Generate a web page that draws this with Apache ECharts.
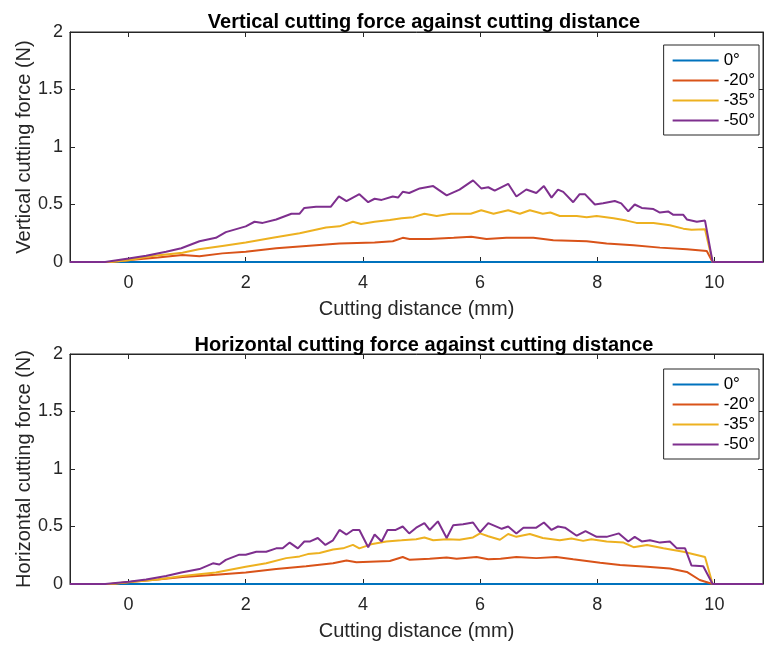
<!DOCTYPE html>
<html>
<head>
<meta charset="utf-8">
<script src="https://cdn.jsdelivr.net/npm/echarts@6/dist/echarts.min.js"></script>
<style>
  html, body { margin: 0; padding: 0; background: #fff; }
  #chart { width: 766px; height: 646px; }
</style>
</head>
<body>
<div id="chart"></div>
<script>
// legend names
const angles = ['0°', '-20°', '-35°', '-50°'];
const colors = ['#0072BD', '#D95319', '#EDB120', '#7E2F8E'];
const xTicks = [0, 2, 4, 6, 8, 10];

// vertical force, [distance mm, force N]
const topBlue = [[-1, 0], [10.83, 0]];
const topRed = [[-1,0],[-0.3,0],[0.07,0.02],[0.5,0.04],[0.92,0.06],[1.21,0.05],[1.6,0.075],[2.0,0.09],[2.52,0.12],[3.03,0.14],[3.6,0.16],[4.2,0.17],[4.51,0.18],[4.68,0.21],[4.8,0.2],[5.14,0.2],[5.55,0.21],[5.85,0.22],[6.11,0.2],[6.45,0.21],[6.91,0.21],[7.25,0.19],[7.82,0.18],[8.16,0.16],[8.62,0.145],[9.07,0.125],[9.53,0.11],[9.87,0.095],[9.97,0],[10.83,0]];
const topYellow = [[-1,0],[-0.3,0],[0,0.015],[0.36,0.05],[0.92,0.08],[1.2,0.11],[1.6,0.14],[2.0,0.17],[2.46,0.21],[2.92,0.25],[3.37,0.3],[3.6,0.31],[3.83,0.35],[3.97,0.33],[4.2,0.35],[4.46,0.365],[4.66,0.38],[4.86,0.39],[5.05,0.42],[5.26,0.4],[5.5,0.42],[5.84,0.42],[6.02,0.45],[6.23,0.42],[6.48,0.45],[6.68,0.42],[6.85,0.45],[7.07,0.42],[7.2,0.43],[7.36,0.4],[7.65,0.4],[7.82,0.39],[7.99,0.4],[8.28,0.38],[8.5,0.36],[8.67,0.34],[8.96,0.34],[9.24,0.32],[9.47,0.29],[9.61,0.28],[9.84,0.285],[9.97,0],[10.83,0]];
const topPurple = [[-1,0],[-0.4,0],[0,0.03],[0.3,0.055],[0.64,0.09],[0.9,0.12],[1.21,0.18],[1.49,0.21],[1.66,0.26],[2.0,0.31],[2.15,0.35],[2.29,0.34],[2.52,0.37],[2.78,0.42],[2.92,0.42],[3.0,0.47],[3.2,0.48],[3.45,0.48],[3.59,0.57],[3.72,0.53],[3.94,0.59],[4.09,0.52],[4.2,0.55],[4.32,0.54],[4.51,0.57],[4.6,0.56],[4.68,0.61],[4.79,0.6],[4.97,0.64],[5.2,0.66],[5.43,0.58],[5.65,0.63],[5.88,0.71],[6.02,0.64],[6.14,0.65],[6.25,0.62],[6.48,0.68],[6.62,0.57],[6.79,0.63],[6.96,0.6],[7.09,0.66],[7.22,0.56],[7.33,0.63],[7.42,0.61],[7.59,0.52],[7.7,0.59],[7.79,0.59],[7.96,0.5],[8.1,0.51],[8.3,0.53],[8.41,0.51],[8.53,0.44],[8.64,0.5],[8.76,0.47],[8.96,0.46],[9.07,0.43],[9.21,0.44],[9.3,0.41],[9.47,0.41],[9.53,0.37],[9.7,0.35],[9.84,0.36],[9.97,0],[10.83,0]];

// horizontal force
const botBlue = [[-1, 0], [10.83, 0]];
const botRed = [[-1,0],[-0.3,0],[0.07,0.02],[0.5,0.04],[0.92,0.06],[1.49,0.08],[2.0,0.1],[2.52,0.13],[3.03,0.155],[3.49,0.18],[3.72,0.205],[3.89,0.19],[4.46,0.2],[4.68,0.235],[4.8,0.21],[5.14,0.22],[5.43,0.23],[5.6,0.22],[5.94,0.235],[6.14,0.215],[6.35,0.22],[6.62,0.235],[6.96,0.225],[7.3,0.235],[7.59,0.215],[8.05,0.185],[8.39,0.165],[8.85,0.15],[9.24,0.135],[9.53,0.105],[9.75,0.035],[9.97,0],[10.83,0]];
const botYellow = [[-1,0],[-0.3,0],[0.07,0.02],[0.5,0.04],[0.92,0.07],[1.49,0.1],[2.0,0.15],[2.35,0.18],[2.69,0.225],[2.92,0.24],[3.06,0.26],[3.26,0.27],[3.49,0.3],[3.66,0.31],[3.83,0.34],[3.94,0.31],[4.14,0.345],[4.4,0.37],[4.66,0.38],[4.91,0.39],[5.05,0.405],[5.2,0.38],[5.43,0.39],[5.65,0.385],[5.88,0.405],[6.0,0.44],[6.14,0.415],[6.34,0.385],[6.48,0.435],[6.62,0.41],[6.85,0.435],[7.07,0.4],[7.36,0.38],[7.56,0.395],[7.76,0.375],[7.9,0.39],[8.16,0.37],[8.45,0.36],[8.62,0.32],[8.85,0.34],[9.13,0.31],[9.47,0.28],[9.84,0.235],[9.97,0],[10.83,0]];
const botPurple = [[-1,0],[-0.4,0],[0,0.02],[0.3,0.04],[0.64,0.07],[0.9,0.1],[1.21,0.13],[1.44,0.18],[1.55,0.17],[1.66,0.21],[1.89,0.255],[2.0,0.255],[2.18,0.28],[2.35,0.28],[2.52,0.31],[2.63,0.31],[2.75,0.36],[2.89,0.31],[3.0,0.37],[3.1,0.37],[3.23,0.4],[3.36,0.34],[3.49,0.38],[3.6,0.47],[3.72,0.43],[3.83,0.47],[3.94,0.47],[4.09,0.32],[4.2,0.43],[4.32,0.37],[4.42,0.47],[4.56,0.47],[4.68,0.5],[4.79,0.44],[4.91,0.49],[5.05,0.53],[5.14,0.47],[5.28,0.545],[5.43,0.4],[5.54,0.51],[5.71,0.52],[5.88,0.535],[6.0,0.45],[6.14,0.53],[6.37,0.48],[6.48,0.5],[6.62,0.44],[6.74,0.49],[6.96,0.49],[7.09,0.535],[7.22,0.47],[7.33,0.5],[7.45,0.49],[7.65,0.42],[7.8,0.46],[7.99,0.41],[8.16,0.41],[8.37,0.44],[8.53,0.37],[8.64,0.41],[8.76,0.37],[8.9,0.38],[9.07,0.36],[9.24,0.37],[9.36,0.31],[9.5,0.31],[9.61,0.16],[9.81,0.155],[9.97,0],[10.83,0]];

const FONT = 'Liberation Sans, Arial, Helvetica, sans-serif';
const AX = '#262626';

const chart = echarts.init(document.getElementById('chart'));

function xAxisFor(gi, pos, main) {
  return {
    type: 'value', gridIndex: gi, position: pos, min: -1, max: 10.83,
    name: main ? 'Cutting distance (mm)' : '',
    nameLocation: 'middle', nameGap: 37,
    nameTextStyle: { fontFamily: FONT, fontSize: 20, color: AX },
    axisLine: { show: true, onZero: false, lineStyle: { color: AX, width: 1 } },
    axisTick: { show: true, inside: true, length: 5, customValues: xTicks, lineStyle: { color: AX } },
    axisLabel: { show: main, customValues: xTicks, margin: 12, fontFamily: FONT, fontSize: 18, color: AX },
    splitLine: { show: false }
  };
}
function yAxisFor(gi, pos, name) {
  return {
    type: 'value', gridIndex: gi, position: pos, min: 0, max: 2, interval: 0.5,
    name: name, nameLocation: 'middle', nameGap: 36, nameMoveOverlap: false,
    nameTextStyle: { fontFamily: FONT, fontSize: 20, color: AX },
    axisLine: { show: true, onZero: false, lineStyle: { color: AX, width: 1 } },
    axisTick: { show: true, inside: true, length: 5, lineStyle: { color: AX } },
    axisLabel: { show: !!name, margin: 7, fontFamily: FONT, fontSize: 18, color: AX },
    splitLine: { show: false }
  };
}
function lineSeries(name, data, color, xi, yi) {
  return {
    type: 'line', name: name, data: data, xAxisIndex: xi, yAxisIndex: yi,
    symbol: 'none', lineStyle: { color: color, width: 2 }, itemStyle: { color: color }
  };
}
function legendFor(top) {
  return {
    orient: 'vertical', right: 7, top: top, data: angles,
    itemWidth: 46, itemHeight: 14, itemGap: 3, itemTextGap: 4,
    itemStyle: { opacity: 0 },
    padding: [7, 4, 6, 8], borderColor: AX, borderWidth: 1, backgroundColor: '#fff',
    textStyle: { fontFamily: FONT, fontSize: 17, color: '#000' }
  };
}

const topData = [topBlue, topRed, topYellow, topPurple];
const botData = [botBlue, botRed, botYellow, botPurple];

const series = [];
angles.forEach(function (a, i) { series.push(lineSeries(a, topData[i], colors[i], 0, 0)); });
angles.forEach(function (a, i) { series.push(lineSeries(a, botData[i], colors[i], 2, 2)); });

chart.setOption({
  animation: false,
  backgroundColor: '#fff',
  title: [
    { text: 'Vertical cutting force against cutting distance', left: 419, top: 7, textAlign: 'center',
      textStyle: { fontFamily: FONT, fontSize: 20, fontWeight: 'bold', color: '#000' } },
    { text: 'Horizontal cutting force against cutting distance', left: 419, top: 330, textAlign: 'center',
      textStyle: { fontFamily: FONT, fontSize: 20, fontWeight: 'bold', color: '#000' } }
  ],
  legend: [legendFor(45), legendFor(369)],
  grid: [
    { left: 70, right: 3, top: 32, height: 230, show: true, borderColor: AX, borderWidth: 1 },
    { left: 70, right: 3, top: 354, height: 230, show: true, borderColor: AX, borderWidth: 1 }
  ],
  xAxis: [
    xAxisFor(0, 'bottom', true), xAxisFor(0, 'top', false),
    xAxisFor(1, 'bottom', true), xAxisFor(1, 'top', false)
  ],
  yAxis: [
    yAxisFor(0, 'left', 'Vertical cutting force (N)'), yAxisFor(0, 'right', ''),
    yAxisFor(1, 'left', 'Horizontal cutting force (N)'), yAxisFor(1, 'right', '')
  ],
  series: series
});
</script>
</body>
</html>
